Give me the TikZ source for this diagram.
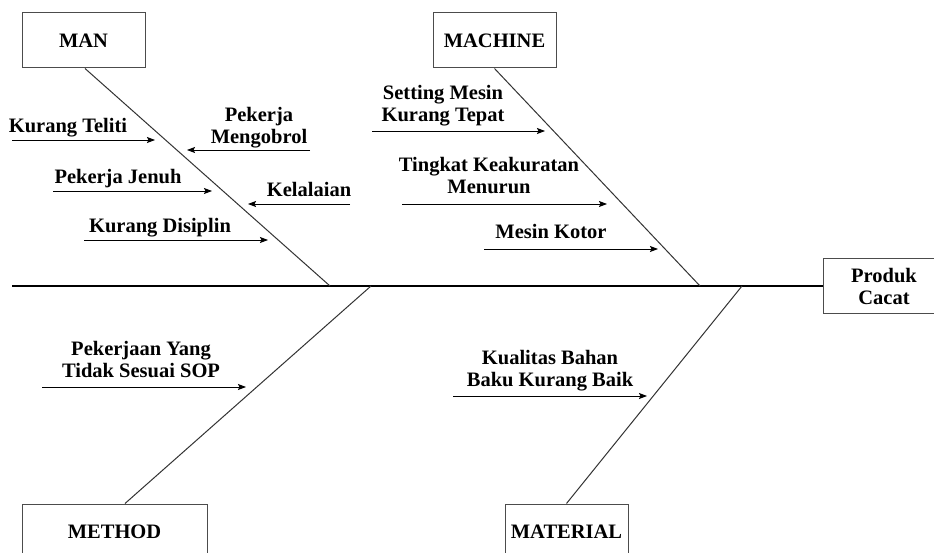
\documentclass[tikz,border=0pt]{standalone}
\usepackage{fontspec}
\setmainfont{Liberation Serif}
\usetikzlibrary{arrows.meta}
\tikzset{
  catbox/.style={draw=black!70,line width=1pt,minimum width=123pt,minimum height=55pt,
    font=\fontsize{20.5}{22}\selectfont\bfseries,align=center},
  bone/.style={draw=black!80,line width=1pt},
  cause/.style={draw=black,line width=0.9pt,-{Stealth[length=8pt,width=6pt,inset=1.5pt]}},
  lbl/.style={inner sep=0pt,anchor=base,align=center,font=\fontsize{20.5}{22}\selectfont\bfseries}
}
\begin{document}
\begin{tikzpicture}[x=1pt,y=-1pt]
\clip (0,0) rectangle (934,553);
\fill[white] (0,0) rectangle (934,553);
\node[catbox] (man) at (83.5,40.5) {MAN};
\node[catbox] (machine) at (494.5,40.5) {MACHINE};
\node[catbox,minimum width=185pt] (method) at (114.5,531.5) {METHOD};
\node[catbox] (material) at (566.5,531.5) {MATERIAL};
\node[catbox,minimum width=122pt,minimum height=54pt] (produk) at (884,286) {Produk\\Cacat};
\coordinate (tail) at (12,286);
\draw[line width=1.3pt] (tail) -- (produk.west);
\coordinate (manj) at (330,286);
\coordinate (machj) at (700,286);
\coordinate (methj) at (371,286);
\coordinate (matj) at (742,286);
\draw[bone] ([xshift=1.5pt]man.south) -- (manj);
\draw[bone] (machine.south) -- (machj);
\draw[bone] ([xshift=10.5pt]method.north) -- (methj);
\draw[bone] (material.north) -- (matj);
\coordinate (a1) at (12,140); \coordinate (b1) at (155,140);
\coordinate (a2) at (310,150); \coordinate (b2) at (187,150);
\coordinate (a3) at (53,191); \coordinate (b3) at (212,191);
\coordinate (a4) at (350,204); \coordinate (b4) at (248,204);
\coordinate (a5) at (84,240); \coordinate (b5) at (268,240);
\coordinate (a6) at (372,131); \coordinate (b6) at (545,131);
\coordinate (a7) at (402,204); \coordinate (b7) at (607,204);
\coordinate (a8) at (484,249); \coordinate (b8) at (658,249);
\coordinate (a9) at (42,387); \coordinate (b9) at (246,387);
\coordinate (a10) at (453,396); \coordinate (b10) at (647,396);
\foreach \i in {1,...,10}
{\draw[cause] (a\i) -- (b\i);}
\node[lbl] (t1) at (68,133) {Kurang Teliti};
\node[lbl] (t2) at (259,144) {Pekerja\\Mengobrol};
\node[lbl] (t3) at (118,184) {Pekerja Jenuh};
\node[lbl] (t4) at (309,197) {Kelalaian};
\node[lbl] (t5) at (160,233) {Kurang Disiplin};
\node[lbl] (t6) at (443,122) {Setting Mesin\\Kurang Tepat};
\node[lbl] (t7) at (489,194) {Tingkat Keakuratan\\Menurun};
\node[lbl] (t8) at (551,239) {Mesin Kotor};
\node[lbl] (t9) at (141,377) {Pekerjaan Yang\\Tidak Sesuai SOP};
\node[lbl] (t10) at (550,386) {Kualitas Bahan\\Baku Kurang Baik};
\end{tikzpicture}
\end{document}
